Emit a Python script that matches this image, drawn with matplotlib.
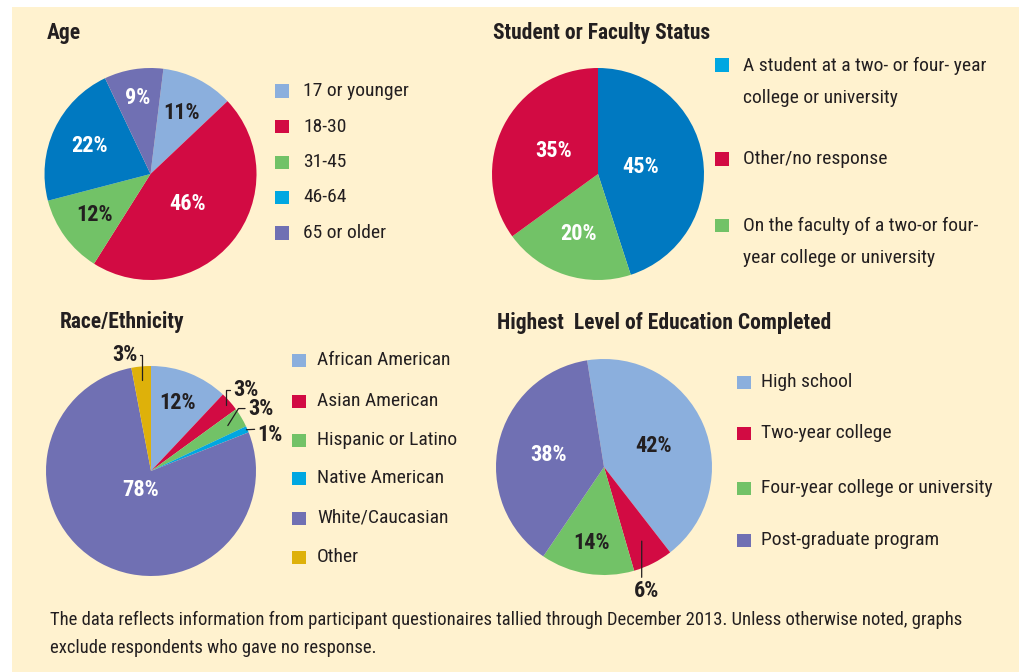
import numpy as np
import matplotlib
matplotlib.use("Agg")
import matplotlib.pyplot as plt
from matplotlib.patches import Rectangle
from matplotlib import font_manager

# données
age_labels = ["17 or younger", "18-30", "31-45", "46-64", "65 or older"]
age_values = [11, 46, 12, 22, 9]

status_labels = ["A student at a two- or four- year\ncollege or university",
                 "Other/no response",
                 "On the faculty of a two-or four-\nyear college or university"]
status_values = [45, 35, 20]
status_pie_order = [0, 2, 1]  # sens horaire dans le camembert

race_labels = ["African American", "Asian American", "Hispanic or Latino",
               "Native American", "White/Caucasian", "Other"]
race_values = [12, 3, 3, 1, 78, 3]

edu_labels = ["High school", "Two-year college",
              "Four-year college or university", "Post-graduate program"]
edu_values = [42, 6, 14, 38]

note = ("The data reflects information from participant questionaires tallied through December 2013. "
        "Unless otherwise noted, graphs\nexclude respondents who gave no response.")

# couleurs
LBLUE = "#8BAFDD"
RED = "#D20B43"
GREEN = "#72C267"
BLUE = "#0079C1"
PURPLE = "#7070B3"
CYAN = "#00A7E1"
GOLD = "#DEB10A"
DARK = "#231F20"
BG = "#FFF2CF"

W, H = 1019, 672

names = {f.name for f in font_manager.fontManager.ttflist}
font = "DejaVu Sans"
for cand in ["Roboto Condensed", "Liberation Sans Narrow", "Open Sans Condensed"]:
    if cand in names:
        font = cand
        break
plt.rcParams["font.family"] = [font, "DejaVu Sans"]

fig = plt.figure(figsize=(W / 100, H / 100), dpi=100)
fig.patch.set_facecolor("white")
fig.add_artist(Rectangle((12 / W, 0), 1, 1 - 7 / H, transform=fig.transFigure,
                         facecolor=BG, edgecolor="none", zorder=0))


def fx(x):
    return x / W


def fy(y):
    return 1 - y / H


def draw_pie(cx, cy, r, values, colors, start):
    ax = fig.add_axes([(cx - r) / W, (H - cy - r) / H, 2 * r / W, 2 * r / H])
    wedges, _ = ax.pie(values, colors=colors, startangle=start, counterclock=False,
                       wedgeprops=dict(linewidth=0))
    ax.set_xlim(-1, 1)
    ax.set_ylim(-1, 1)
    ax.set_aspect("equal")
    ax.axis("off")
    return ax, wedges


def mid(w, dist):
    t = np.deg2rad((w.theta1 + w.theta2) / 2)
    return dist * np.cos(t), dist * np.sin(t)


def pct(ax, w, txt, dist, color):
    x, y = mid(w, dist)
    ax.text(x, y, txt, ha="center", va="center", fontsize=16, fontweight="bold", color=color)


def callout(ax, w, txt, dist, off, conn, ha="left", relpos=(0.5, 0.5)):
    ax.annotate(txt, xy=mid(w, dist), xytext=off, textcoords="offset pixels",
                ha=ha, va="center", fontsize=16, fontweight="bold", color=DARK,
                annotation_clip=False,
                arrowprops=dict(arrowstyle="-", color=DARK, lw=0.9, shrinkA=0, shrinkB=0,
                                connectionstyle=conn, relpos=relpos))


def legend(x, gap, ys, labels, colors):
    for y, lab, col in zip(ys, labels, colors):
        fig.add_artist(Rectangle((fx(x), fy(y + 6.5)), 14 / W, 13 / H,
                                 transform=fig.transFigure, facecolor=col, edgecolor="none"))
        if "\n" in lab:
            fig.text(fx(x + gap), fy(y - 8), lab, ha="left", va="top",
                     fontsize=14, color=DARK, linespacing=2.0)
        else:
            fig.text(fx(x + gap), fy(y), lab, ha="left", va="center", fontsize=14, color=DARK)


def title(x, y, txt):
    fig.text(fx(x), fy(y), txt, ha="left", va="center", fontsize=15.5, fontweight="bold", color=DARK)


# Age
title(47, 33, "Age")
ax, w = draw_pie(150.5, 174, 106, age_values, [LBLUE, RED, GREEN, BLUE, PURPLE], 83)
for wd, v, d, c in zip(w, age_values, [0.65, 0.45, 0.65, 0.63, 0.73],
                       [DARK, "white", DARK, "white", "white"]):
    pct(ax, wd, f"{v}%", d, c)
legend(275, 28, [91, 126.5, 162, 197.5, 233], age_labels, [LBLUE, RED, GREEN, CYAN, PURPLE])

# Student or Faculty Status
title(493, 33, "Student or Faculty Status")
ax, w = draw_pie(598, 174, 106, [status_values[i] for i in status_pie_order], [BLUE, GREEN, RED], 90)
for wd, i, d in zip(w, status_pie_order, [0.41, 0.6, 0.47]):
    pct(ax, wd, f"{status_values[i]}%", d, "white")
legend(715, 28, [65, 159, 225], status_labels, [CYAN, RED, GREEN])

# Race/Ethnicity
title(60, 322, "Race/Ethnicity")
ax, w = draw_pie(151, 471, 105, race_values, [LBLUE, RED, GREEN, CYAN, PURPLE, GOLD], 90)
pct(ax, w[0], "12%", 0.70, DARK)
pct(ax, w[4], "78%", 0.21, "white")
callout(ax, w[1], "3%", 0.95, (7, 15), "angle,angleA=0,angleB=90,rad=0")
callout(ax, w[2], "3%", 0.85, (20, 17), "angle,angleA=0,angleB=58,rad=0")
callout(ax, w[3], "1%", 0.99, (11, -5), "arc3", relpos=(0, 0.75))
callout(ax, w[5], "3%", 0.87, (-5, 25), "angle,angleA=0,angleB=90,rad=0", ha="right")
legend(292, 25, [360, 401, 440, 478, 518, 557], race_labels, [LBLUE, RED, GREEN, CYAN, PURPLE, GOLD])

# Highest Level of Education Completed
title(497, 323, "Highest  Level of Education Completed")
ax, w = draw_pie(604, 467, 108, edu_values, [LBLUE, RED, GREEN, PURPLE], 99)
pct(ax, w[0], "42%", 0.5, DARK)
pct(ax, w[2], "14%", 0.71, DARK)
pct(ax, w[3], "38%", 0.53, "white")
callout(ax, w[1], "6%", 0.77, (5, -50), "arc3", ha="center", relpos=(0.3, 1.0))
legend(737, 24, [382, 433, 488, 540], edu_labels, [LBLUE, RED, GREEN, PURPLE])

fig.text(fx(50), fy(611), note, ha="left", va="top", fontsize=13.4, color=DARK, linespacing=1.7)

fig.savefig("out.png", dpi=100, facecolor=fig.get_facecolor())
